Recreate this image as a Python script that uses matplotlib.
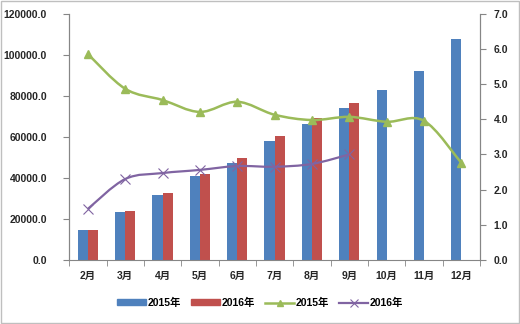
import numpy as np
import matplotlib
matplotlib.use("Agg")
import matplotlib.pyplot as plt
from matplotlib.path import Path
from matplotlib.patches import PathPatch, Rectangle

plt.rcParams['font.family'] = ['Liberation Sans', 'Noto Sans CJK SC']

months = ["2月", "3月", "4月", "5月", "6月", "7月", "8月", "9月", "10月", "11月", "12月"]
bar2015 = [14800, 23300, 31800, 40700, 47500, 57900, 66300, 74100, 82900, 92300, 107800]
bar2016 = [14800, 24000, 32500, 41800, 49600, 60200, 69300, 76600]
line2015 = [5.86, 4.87, 4.55, 4.21, 4.50, 4.13, 3.98, 4.07, 3.93, 3.96, 2.76]
line2016 = [1.45, 2.30, 2.47, 2.56, 2.67, 2.65, 2.73, 3.00]

blue = "#4F81BD"
red = "#C0504D"
green = "#9BBB59"
purple = "#8064A2"
axcol = "#868686"


def smooth_path(xs, ys):
    # Excel-like smoothed line as cubic Bezier segments through the points
    xs = np.asarray(xs, float)
    ys = np.asarray(ys, float)
    verts = [(xs[0], ys[0])]
    codes = [Path.MOVETO]
    n = len(xs)
    for i in range(n - 1):
        x0, y0 = (xs[i - 1], ys[i - 1]) if i > 0 else (xs[i], ys[i])
        x1, y1 = xs[i], ys[i]
        x2, y2 = xs[i + 1], ys[i + 1]
        x3, y3 = (xs[i + 2], ys[i + 2]) if i + 2 < n else (x2, y2)
        t = 1 / 6
        verts += [(x1 + (x2 - x0) * t, y1 + (y2 - y0) * t),
                  (x2 - (x3 - x1) * t, y2 - (y3 - y1) * t),
                  (x2, y2)]
        codes += [Path.CURVE4] * 3
    return Path(verts, codes)


fig = plt.figure(figsize=(5.2, 3.24), dpi=100)
fig.patches.append(Rectangle((0.002, 0.003), 0.996, 0.994, transform=fig.transFigure,
                             fill=False, edgecolor="#BFBFBF", linewidth=1))
ax = fig.add_axes([0.133, 0.198, 0.790, 0.759])
ax2 = ax.twinx()

x = np.arange(len(months))
w = 0.27
ax.bar(x[:len(bar2015)] - w / 2, bar2015, w, color=blue, label="2015年", zorder=2)
ax.bar(x[:len(bar2016)] + w / 2, bar2016, w, color=red, label="2016年", zorder=2)

ax2.add_patch(PathPatch(smooth_path(x[:len(line2015)], line2015), fill=False,
                        edgecolor=green, linewidth=1.8, zorder=3))
ax2.add_patch(PathPatch(smooth_path(x[:len(line2016)], line2016), fill=False,
                        edgecolor=purple, linewidth=1.6, zorder=3))
ax2.plot(x[:len(line2015)], line2015, linestyle="none", marker="^", markersize=6,
         color=green, zorder=4)
ax2.plot(x[:len(line2016)], line2016, linestyle="none", marker="x", markersize=7,
         markeredgewidth=0.8, color=purple, zorder=4)

ax.set_xlim(-0.5, len(months) - 0.5)
ax.set_ylim(0, 120000)
ax2.set_ylim(0, 7)
ax.set_yticks(np.arange(0, 120001, 20000))
ax.set_yticklabels(["%.1f" % v for v in np.arange(0, 120001, 20000)])
ax2.set_yticks(np.arange(0, 8, 1))
ax2.set_yticklabels(["%.1f" % v for v in np.arange(0, 8, 1)])
ax.set_xticks(x)
ax.set_xticklabels(months)
ax.set_xticks(np.arange(-0.5, len(months), 1), minor=True)
ax.tick_params(axis="x", which="major", length=0, pad=8, labelsize=7.5)
ax.tick_params(axis="x", which="minor", length=4, color=axcol, direction="out")
ax.tick_params(axis="y", length=4, color=axcol, labelsize=7.5, pad=12)
ax2.tick_params(axis="y", length=4, color=axcol, labelsize=7.5, pad=6)
for a in (ax, ax2):
    for lab in a.get_yticklabels() + a.get_xticklabels():
        lab.set_fontweight("bold")
        lab.set_color("#262626")
    a.spines["top"].set_visible(False)
    for s in ("left", "right", "bottom"):
        a.spines[s].set_color(axcol)
ax2.spines["bottom"].set_visible(False)

h1 = [Rectangle((0, 0), 1, 1, color=blue), Rectangle((0, 0), 1, 1, color=red),
      plt.Line2D([], [], color=green, marker="^", markersize=5, linewidth=1.8),
      plt.Line2D([], [], color=purple, marker="x", markersize=6, markeredgewidth=0.8,
                 linewidth=1.6)]
fig.legend(h1, ["2015年", "2016年", "2015年", "2016年"], loc="center",
           bbox_to_anchor=(0.5, 0.065), ncol=4, frameon=False,
           handlelength=2.8, handleheight=0.5, columnspacing=1.0, handletextpad=0.1,
           prop={"weight": "bold", "size": 7.5})

fig.savefig("out.png", dpi=100)
